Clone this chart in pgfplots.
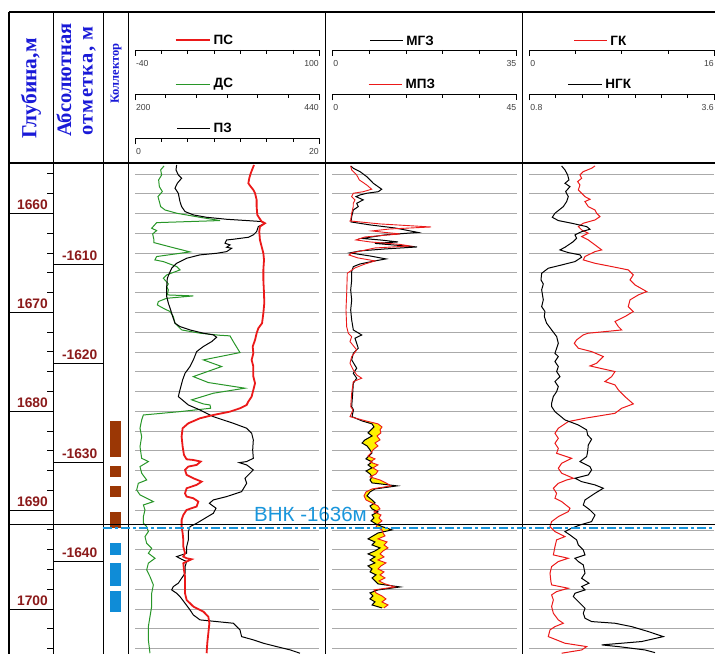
\documentclass[border=0pt]{standalone}
\usepackage{fontspec}
\setmainfont{Liberation Sans}
\newfontfamily\hdserif{Liberation Serif}
\newfontfamily\hdserifsp{Liberation Serif}[LetterSpace=6]
\usepackage{pgfplots}
\usepackage{pgfplotstable}
\pgfplotsset{compat=1.18}

\definecolor{dred}{RGB}{139,26,26}
\definecolor{hblue}{RGB}{25,25,215}
\definecolor{psred}{RGB}{235,25,25}
\definecolor{dsgreen}{RGB}{40,150,40}
\definecolor{vnkblue}{RGB}{25,150,220}
\definecolor{kbrown}{RGB}{155,55,5}
\definecolor{kblue}{RGB}{15,140,215}
\definecolor{gridgray}{RGB}{170,170,170}
\definecolor{fillyellow}{RGB}{255,240,0}

\pgfplotstableread{
d v
1655.10 50.4
1655.94 47.9
1656.44 46.8
1656.95 46.1
1657.29 47.9
1657.62 49.9
1657.96 51.2
1658.63 52.4
1659.31 52.4
1660.15 52.9
1660.82 56.2
1660.99 58.7
1661.33 54.9
1661.84 54.4
1662.68 54.9
1663.35 56.2
1664.03 57.5
1664.70 58.0
1665.71 57.5
1666.72 57.5
1668.07 58.0
1669.08 58.2
1670.09 57.5
1671.10 56.5
1671.61 53.7
1672.11 52.4
1672.79 51.2
1673.46 49.4
1674.14 49.9
1674.81 48.6
1675.48 49.9
1676.50 49.9
1677.17 51.2
1677.84 49.9
1678.52 48.6
1679.02 46.1
1679.37 44.8
1679.70 39.8
1680.04 32.2
1680.38 19.5
1680.71 9.4
1681.22 0.5
1681.72 -3.8
1682.57 -4.6
1683.58 -3.8
1684.42 -2.8
1684.86 -0.8
1684.93 4.3
1685.09 9.9
1685.43 6.8
1685.60 0.5
1685.94 -2.0
1686.44 -0.8
1686.78 4.3
1687.12 10.6
1687.45 6.8
1687.79 -0.8
1688.30 -2.0
1688.63 -0.8
1688.80 4.3
1689.14 8.1
1689.64 6.8
1689.98 -0.8
1690.49 -3.3
1690.99 -4.6
1691.67 -4.6
1692.34 -3.8
1693.01 -3.3
1693.69 -3.3
1694.36 -2.0
1694.70 -3.3
1694.87 -0.8
1694.97 3.0
1695.20 -0.8
1695.37 -3.3
1696.05 -2.8
1696.72 -2.0
1697.73 -2.0
1698.41 -2.0
1699.08 -0.8
1699.75 4.3
1700.26 11.9
1700.77 15.7
1701.44 16.5
1702.45 15.7
1703.46 14.9
1704.47 14.4
}\tabPS

\pgfplotstableread{
d v
1655.20 237.8
1655.60 233.4
1656.11 234.7
1656.61 230.8
1657.29 231.7
1657.79 235.6
1658.30 229.9
1658.80 231.7
1659.31 233.4
1659.65 239.1
1659.98 254.3
1660.39 284.6
1660.72 310.7
1660.93 228.2
1661.50 221.7
1661.73 228.2
1662.07 223.0
1662.68 224.7
1662.95 224.7
1663.42 247.7
1663.89 271.6
1664.36 228.2
1664.70 226.0
1664.87 236.9
1665.37 254.3
1665.71 258.6
1666.22 241.2
1666.55 236.9
1667.13 243.4
1667.40 241.2
1667.73 243.4
1668.24 242.1
1668.34 275.9
1668.58 241.2
1668.91 230.4
1669.25 229.1
1669.59 236.9
1669.92 245.6
1670.43 249.9
1671.10 252.1
1671.78 260.8
1672.11 284.6
1672.32 310.7
1672.38 323.7
1672.96 328.0
1674.07 336.7
1674.81 289.0
1675.48 312.8
1676.50 275.9
1677.10 295.5
1677.67 343.2
1678.18 302.0
1678.85 273.8
1679.26 289.0
1679.37 297.7
1679.70 298.5
1680.04 258.6
1680.38 210.9
1680.88 208.7
1681.72 206.5
1682.57 208.7
1683.58 206.5
1684.76 208.7
1685.09 217.4
1685.60 206.5
1686.27 208.7
1686.95 215.2
1687.29 204.3
1687.96 202.2
1688.46 206.5
1688.80 215.2
1689.14 223.9
1689.48 210.9
1689.98 213.0
1690.66 210.9
1691.33 210.9
1691.67 215.2
1692.17 217.4
1692.68 213.0
1693.35 215.2
1693.86 221.7
1694.36 217.4
1694.87 226.0
1695.37 217.4
1696.05 215.2
1696.72 219.5
1697.56 223.9
1698.41 221.7
1699.75 221.7
1700.77 219.5
1701.78 217.4
1703.12 217.4
1704.47 219.5
}\tabDS

\pgfplotstableread{
d v
1655.10 4.52
1655.60 4.45
1656.11 4.70
1656.44 5.06
1656.95 4.59
1657.45 4.34
1657.96 4.70
1658.80 4.88
1659.31 5.06
1659.81 5.43
1660.15 6.33
1660.39 7.78
1660.59 9.95
1660.72 12.12
1660.82 13.74
1660.99 14.11
1661.33 13.38
1661.84 13.20
1662.17 12.84
1662.41 12.30
1662.61 10.67
1662.68 9.95
1663.02 9.77
1663.18 10.31
1663.42 9.95
1663.52 10.49
1663.86 9.95
1664.03 8.86
1664.19 7.05
1664.53 5.61
1665.04 4.52
1665.54 3.98
1666.05 3.73
1666.55 3.51
1667.40 3.44
1668.41 3.44
1669.08 3.62
1669.76 3.87
1670.43 4.09
1671.10 4.34
1671.44 4.88
1671.78 5.97
1672.11 7.41
1672.28 8.50
1672.52 8.86
1672.96 8.32
1673.46 7.41
1673.97 6.69
1674.81 6.33
1675.48 5.97
1676.16 5.43
1676.83 5.17
1677.84 4.88
1678.52 4.70
1679.37 5.79
1679.87 7.05
1680.55 8.50
1681.22 10.67
1681.72 12.12
1682.23 12.66
1682.90 12.84
1683.92 12.77
1684.76 12.84
1685.09 12.12
1685.20 11.32
1685.43 12.12
1685.94 12.84
1686.27 12.48
1686.78 11.94
1687.29 12.12
1688.13 11.57
1688.63 9.95
1688.97 8.50
1689.31 8.07
1689.81 8.79
1690.32 8.50
1690.82 7.60
1691.33 6.69
1691.67 5.97
1692.17 5.79
1693.01 5.79
1693.69 5.61
1694.36 5.61
1694.53 5.06
1694.70 4.52
1694.97 5.06
1695.20 5.61
1695.71 5.43
1696.38 5.43
1697.39 4.70
1697.73 4.16
1698.07 3.98
1698.41 4.52
1698.74 4.88
1699.42 5.43
1700.09 5.97
1700.60 6.33
1701.10 7.05
1701.27 8.86
1701.44 10.67
1702.11 11.39
1702.79 11.57
1703.12 12.84
1703.46 13.93
1703.80 15.37
1704.13 16.82
1704.47 17.90
}\tabPZ

\pgfplotstableread{
d v
1655.20 3.49
1655.43 3.99
1655.77 5.26
1656.28 6.53
1656.61 7.16
1656.95 7.78
1657.55 9.38
1657.80 8.73
1657.96 6.53
1658.13 5.26
1658.30 4.50
1658.63 5.88
1658.97 4.63
1659.31 4.93
1659.65 3.99
1660.32 3.68
1660.86 3.55
1661.16 7.16
1661.47 11.90
1661.92 16.27
1662.17 10.00
1662.53 5.64
1662.68 9.05
1662.88 12.47
1663.03 8.10
1663.39 16.08
1663.59 10.00
1663.79 5.26
1663.99 3.36
1664.30 7.16
1664.60 10.19
1664.80 8.10
1665.11 5.26
1665.38 3.99
1665.88 3.68
1666.72 3.68
1667.74 3.49
1668.75 3.68
1669.76 3.49
1670.77 3.68
1671.78 3.99
1672.29 5.58
1672.62 4.31
1673.63 4.93
1674.14 3.99
1674.81 3.68
1675.65 4.63
1676.16 3.99
1676.66 4.63
1677.17 3.99
1678.18 3.87
1679.53 3.68
1679.87 4.02
1680.55 3.74
1680.98 5.64
1681.28 7.54
1681.59 7.91
1681.89 7.35
1682.19 6.78
1682.50 7.54
1682.90 6.21
1683.21 5.64
1683.51 6.59
1683.91 7.16
1684.22 7.54
1684.52 6.97
1684.82 6.40
1685.13 7.54
1685.43 6.78
1685.73 7.54
1686.04 6.40
1686.34 7.16
1686.64 7.54
1686.95 7.16
1687.25 7.54
1687.55 12.28
1687.86 8.10
1688.16 7.16
1688.56 6.59
1688.97 7.54
1689.27 8.10
1689.58 7.16
1689.88 7.54
1690.18 8.67
1690.49 7.54
1690.79 7.91
1691.09 7.35
1691.40 8.29
1691.70 9.62
1692.00 11.33
1692.31 8.67
1692.61 7.72
1692.91 6.78
1693.22 8.10
1693.52 7.54
1693.82 9.05
1694.13 8.10
1694.43 6.78
1694.73 8.10
1695.04 7.16
1695.34 8.10
1695.64 6.78
1695.95 7.54
1696.25 7.16
1696.55 8.29
1696.86 7.54
1697.16 8.10
1697.46 8.67
1697.77 12.85
1698.07 8.67
1698.37 7.16
1698.68 7.72
1698.98 7.16
1699.28 8.10
1699.59 7.54
1699.89 9.43
}\tabMGZ

\pgfplotstableread{
d v
1655.20 4.49
1655.60 4.73
1656.11 5.95
1656.61 6.59
1657.12 8.39
1657.55 9.61
1657.80 7.56
1657.96 5.12
1658.30 4.73
1658.63 5.54
1658.97 5.12
1659.31 5.12
1659.98 4.73
1660.66 4.49
1660.76 4.32
1661.06 11.64
1661.37 24.08
1661.57 14.08
1661.77 9.69
1661.92 12.86
1662.07 16.52
1662.38 7.98
1662.68 5.78
1662.88 9.20
1663.13 16.52
1663.29 18.96
1663.49 10.42
1663.99 4.81
1664.20 4.07
1664.50 6.27
1664.80 10.42
1665.11 7.98
1665.51 5.54
1666.05 3.66
1668.07 3.51
1669.76 3.34
1671.45 3.51
1672.11 3.90
1672.46 4.73
1672.96 4.32
1673.80 5.95
1674.48 4.73
1675.15 4.32
1675.82 5.12
1676.33 5.95
1676.66 7.17
1677.01 5.12
1678.18 4.73
1679.53 4.49
1679.87 5.05
1680.55 4.32
1680.98 8.22
1681.28 11.15
1681.59 12.13
1681.89 11.64
1682.19 11.88
1682.50 10.91
1682.90 11.64
1683.21 10.42
1683.51 11.15
1683.91 9.93
1684.22 9.44
1684.52 8.71
1684.82 10.42
1685.13 9.20
1685.43 11.15
1685.73 9.93
1686.04 11.15
1686.34 10.66
1686.64 9.20
1686.95 11.64
1687.25 13.10
1687.55 14.32
1687.86 9.69
1688.16 8.22
1688.56 7.73
1688.97 8.22
1689.27 9.69
1689.58 11.15
1689.88 11.64
1690.18 10.17
1690.49 11.88
1690.79 11.39
1691.09 12.13
1691.40 11.15
1691.70 10.66
1692.00 12.13
1692.31 12.37
1692.61 12.86
1692.91 11.15
1693.22 13.35
1693.52 12.61
1693.82 13.59
1694.13 12.37
1694.43 11.64
1694.73 12.61
1695.04 11.15
1695.34 13.10
1695.64 11.88
1695.95 11.15
1696.25 12.61
1696.55 11.64
1696.86 12.86
1697.16 11.39
1697.46 12.86
1697.77 15.30
1698.07 10.17
1698.37 10.66
1698.68 12.13
1698.98 13.10
1699.28 12.13
1699.59 13.59
1699.89 12.61
}\tabMPZ

% yellow band: MGZ (s=1) down, then MPZ (s=35/45) back up
\pgfplotstableread{
d v s
1680.98 5.64 1
1681.28 7.54 1
1681.59 7.91 1
1681.89 7.35 1
1682.19 6.78 1
1682.50 7.54 1
1682.90 6.21 1
1683.21 5.64 1
1683.51 6.59 1
1683.91 7.16 1
1684.22 7.54 1
1684.52 6.97 1
1684.82 6.40 1
1685.13 7.54 1
1685.43 6.78 1
1685.73 7.54 1
1686.04 6.40 1
1686.34 7.16 1
1686.64 7.54 1
1686.95 7.16 1
1687.25 7.54 1
1687.55 12.28 1
1687.86 8.10 1
1688.16 7.16 1
1688.56 6.59 1
1688.97 7.54 1
1689.27 8.10 1
1689.58 7.16 1
1689.88 7.54 1
1690.18 8.67 1
1690.49 7.54 1
1690.79 7.91 1
1691.09 7.35 1
1691.40 8.29 1
1691.70 9.62 1
1692.00 11.33 1
1692.31 8.67 1
1692.61 7.72 1
1692.91 6.78 1
1693.22 8.10 1
1693.52 7.54 1
1693.82 9.05 1
1694.13 8.10 1
1694.43 6.78 1
1694.73 8.10 1
1695.04 7.16 1
1695.34 8.10 1
1695.64 6.78 1
1695.95 7.54 1
1696.25 7.16 1
1696.55 8.29 1
1696.86 7.54 1
1697.16 8.10 1
1697.46 8.67 1
1697.77 12.85 1
1698.07 8.67 1
1698.37 7.16 1
1698.68 7.72 1
1698.98 7.16 1
1699.28 8.10 1
1699.59 7.54 1
1699.89 9.43 1
1699.89 12.61 0.7778
1699.59 13.59 0.7778
1699.28 12.13 0.7778
1698.98 13.10 0.7778
1698.68 12.13 0.7778
1698.37 10.66 0.7778
1698.07 10.17 0.7778
1697.77 15.30 0.7778
1697.46 12.86 0.7778
1697.16 11.39 0.7778
1696.86 12.86 0.7778
1696.55 11.64 0.7778
1696.25 12.61 0.7778
1695.95 11.15 0.7778
1695.64 11.88 0.7778
1695.34 13.10 0.7778
1695.04 11.15 0.7778
1694.73 12.61 0.7778
1694.43 11.64 0.7778
1694.13 12.37 0.7778
1693.82 13.59 0.7778
1693.52 12.61 0.7778
1693.22 13.35 0.7778
1692.91 11.15 0.7778
1692.61 12.86 0.7778
1692.31 12.37 0.7778
1692.00 12.13 0.7778
1691.70 10.66 0.7778
1691.40 11.15 0.7778
1691.09 12.13 0.7778
1690.79 11.39 0.7778
1690.49 11.88 0.7778
1690.18 10.17 0.7778
1689.88 11.64 0.7778
1689.58 11.15 0.7778
1689.27 9.69 0.7778
1688.97 8.22 0.7778
1688.56 7.73 0.7778
1688.16 8.22 0.7778
1687.86 9.69 0.7778
1687.55 14.32 0.7778
1687.25 13.10 0.7778
1686.95 11.64 0.7778
1686.64 9.20 0.7778
1686.34 10.66 0.7778
1686.04 11.15 0.7778
1685.73 9.93 0.7778
1685.43 11.15 0.7778
1685.13 9.20 0.7778
1684.82 10.42 0.7778
1684.52 8.71 0.7778
1684.22 9.44 0.7778
1683.91 9.93 0.7778
1683.51 11.15 0.7778
1683.21 10.42 0.7778
1682.90 11.64 0.7778
1682.50 10.91 0.7778
1682.19 11.88 0.7778
1681.89 11.64 0.7778
1681.59 12.13 0.7778
1681.28 11.15 0.7778
1680.98 8.22 0.7778
}\tabBand

\pgfplotstableread{
d v
1655.20 1.289
1655.60 1.340
1656.11 1.380
1656.61 1.400
1656.95 1.340
1657.29 1.415
1657.79 1.350
1658.30 1.390
1658.80 1.365
1659.31 1.315
1659.98 1.188
1660.39 1.148
1660.72 1.239
1660.99 1.441
1661.33 1.668
1661.60 1.718
1661.84 1.592
1662.17 1.491
1662.51 1.516
1662.85 1.466
1663.42 1.340
1663.69 1.264
1663.96 1.390
1664.19 1.567
1664.43 1.592
1664.87 1.491
1665.21 1.289
1665.54 1.088
1666.05 0.987
1666.72 0.977
1667.13 1.012
1667.73 0.987
1668.74 1.012
1669.42 0.987
1669.92 1.037
1670.43 1.027
1671.10 1.062
1671.78 1.138
1672.45 1.214
1673.13 1.239
1673.63 1.214
1674.14 1.188
1674.47 1.239
1674.98 1.188
1675.48 1.239
1675.99 1.214
1676.50 1.264
1677.00 1.188
1677.51 1.239
1678.01 1.214
1678.52 1.163
1679.19 1.138
1679.53 1.138
1680.04 1.188
1680.88 1.340
1681.39 1.542
1681.89 1.668
1682.40 1.683
1682.84 1.743
1683.41 1.693
1684.08 1.683
1684.59 1.668
1685.09 1.567
1685.26 1.617
1685.60 1.718
1685.94 1.743
1686.44 1.693
1686.78 1.491
1687.12 1.592
1687.45 1.794
1687.79 1.920
1688.30 1.794
1688.97 1.643
1689.48 1.617
1689.98 1.718
1690.49 1.794
1691.16 1.743
1691.50 1.567
1691.83 1.441
1692.17 1.340
1692.51 1.415
1693.01 1.516
1693.52 1.542
1694.03 1.617
1694.53 1.643
1694.87 1.491
1695.20 1.542
1695.54 1.617
1696.38 1.643
1696.89 1.592
1697.39 1.703
1697.73 1.592
1698.07 1.643
1698.41 1.491
1698.74 1.466
1699.25 1.542
1699.92 1.643
1700.43 1.617
1700.93 1.643
1701.27 1.743
1701.44 2.097
1701.78 2.349
1702.28 2.601
1702.79 2.828
1703.29 2.500
1703.63 1.895
1703.80 2.147
1703.97 2.349
1704.14 2.551
1704.41 2.702
}\tabNGK

\pgfplotstableread{
d v
1655.20 5.68
1655.43 5.39
1655.77 4.67
1656.11 4.38
1656.44 4.53
1656.78 4.18
1657.12 4.38
1657.62 4.24
1657.96 4.53
1658.30 4.81
1658.57 5.25
1658.80 4.81
1659.31 5.10
1659.65 5.68
1659.98 5.82
1660.32 6.11
1660.66 5.68
1660.99 4.67
1661.33 4.24
1661.67 4.53
1662.00 5.10
1662.34 4.53
1662.68 5.10
1663.18 5.68
1663.69 6.26
1663.86 5.68
1664.36 4.81
1664.70 4.67
1665.04 5.68
1665.37 7.12
1665.71 8.56
1666.22 8.99
1666.72 8.71
1667.23 9.14
1667.90 10.15
1668.24 9.43
1668.74 8.71
1669.42 8.56
1669.92 8.99
1670.43 8.27
1670.93 7.41
1671.44 7.70
1671.78 7.99
1671.95 6.54
1672.11 5.10
1672.28 4.67
1672.79 4.09
1673.13 3.89
1673.63 4.24
1673.97 5.39
1674.47 6.40
1675.15 5.82
1675.42 5.25
1675.65 6.11
1675.99 7.41
1676.50 7.12
1677.00 6.54
1677.34 7.41
1677.84 7.70
1678.52 8.27
1679.26 8.99
1679.70 7.99
1680.21 7.41
1680.71 4.81
1681.05 3.37
1681.72 2.51
1682.23 2.22
1682.74 2.51
1683.24 2.22
1683.75 2.51
1684.25 2.36
1684.76 3.66
1685.26 2.80
1685.77 2.51
1686.27 2.80
1686.78 3.81
1686.95 3.23
1687.29 2.51
1687.79 2.08
1688.30 2.36
1688.80 2.22
1689.14 2.80
1689.81 3.52
1690.15 3.37
1690.66 2.51
1691.16 1.93
1691.67 1.79
1692.17 2.22
1692.68 3.08
1693.01 2.36
1693.69 2.22
1694.53 2.08
1694.87 3.37
1695.20 2.51
1695.71 1.93
1696.38 1.79
1697.23 1.87
1697.56 1.93
1697.90 3.37
1698.24 2.36
1698.57 1.93
1699.08 2.08
1699.75 1.93
1700.43 2.08
1701.10 2.51
1701.44 2.94
1701.78 2.22
1702.11 1.79
1702.79 1.64
1703.46 3.08
1703.80 4.96
1704.14 4.53
1704.47 2.80
}\tabGK

\pgfplotsset{
  trk/.style={scale only axis, height=491pt, anchor=north west,
    ymin=1654.9, ymax=1704.55, y dir=reverse, clip=true},
  grd/.style={trk, axis line style={draw=none}, xtick=\empty,
    ytick={1656,1658,...,1704}, yticklabels={}, major tick length=0pt,
    ymajorgrids, grid style={gridgray, line width=0.6pt}},
  hid/.style={trk, hide axis},
}

\newcommand{\scalebar}[6]{%
  \draw[line width=0.9pt] (#1,#3+6) -- (#1,#3) -- (#2,#3) -- (#2,#3+6);
  \pgfmathtruncatemacro{\nn}{#4-1}%
  \foreach \k in {1,...,\nn}{\draw[line width=0.9pt] ({#1+(#2-#1)*\k/#4},#3) -- ++(0,4);}
  \node[anchor=base west, inner sep=0pt, font=\fontsize{8.7}{10}\selectfont, text=black!75] at (#1+0.8,#3+16.7) {#5};
  \node[anchor=base east, inner sep=0pt, font=\fontsize{8.7}{10}\selectfont, text=black!75] at (#2-0.3,#3+16.7) {#6};
}
\newcommand{\lgd}[5]{%
  \draw[#4, line width=1.4pt] (#1,#3) -- (#2,#3);
  \node[anchor=west, inner sep=0pt, font=\bfseries\fontsize{13.5}{15}\selectfont] at (#2+3.5,#3) {#5};
}

\begin{document}
\begin{tikzpicture}
\useasboundingbox (0,0) rectangle (715pt,654pt);

% ---------- track 1 ----------
\begin{axis}[grd, at={(135pt,491pt)}, width=184.3pt, xmin=200, xmax=440]
\addplot[dsgreen, line width=1pt] table[x=v, y=d]{\tabDS};
\end{axis}
\begin{axis}[hid, at={(135pt,491pt)}, width=184.3pt, xmin=0, xmax=20]
\addplot[black, line width=1pt] table[x=v, y=d]{\tabPZ};
\end{axis}
\begin{axis}[hid, at={(135pt,491pt)}, width=184.3pt, xmin=-40, xmax=100]
\addplot[psred, line width=1.8pt] table[x=v, y=d]{\tabPS};
\end{axis}

% ---------- track 2 ----------
\begin{axis}[grd, at={(332.3pt,491pt)}, width=184.4pt, xmin=0, xmax=35]
\addplot[fill=fillyellow, draw=none] table[x expr=\thisrow{v}*\thisrow{s}, y=d]{\tabBand};
\addplot[black, line width=1pt] table[x=v, y=d]{\tabMGZ};
\addplot[psred, line width=0.9pt] table[x expr=\thisrow{v}*35/45, y=d]{\tabMPZ};
\end{axis}

% ---------- track 3 ----------
\begin{axis}[grd, at={(529.3pt,491pt)}, width=185pt, xmin=0, xmax=16]
\addplot[psred, line width=1pt] table[x=v, y=d]{\tabGK};
\end{axis}
\begin{axis}[hid, at={(529.3pt,491pt)}, width=185pt, xmin=0.8, xmax=3.6]
\addplot[black, line width=1pt] table[x=v, y=d]{\tabNGK};
\end{axis}

% ---------- collector ----------
\begin{axis}[hid, at={(103.3pt,491pt)}, width=25pt, xmin=0, xmax=25]
\addplot[fill=kbrown, draw=none] coordinates {(6.7,1680.95) (17.4,1680.95) (17.4,1684.65) (6.7,1684.65)};
\addplot[fill=kbrown, draw=none] coordinates {(6.7,1685.53) (17.4,1685.53) (17.4,1686.67) (6.7,1686.67)};
\addplot[fill=kbrown, draw=none] coordinates {(6.7,1687.52) (17.4,1687.52) (17.4,1688.63) (6.7,1688.63)};
\addplot[fill=kbrown, draw=none] coordinates {(6.7,1690.15) (17.4,1690.15) (17.4,1691.77) (6.7,1691.77)};
\addplot[fill=kblue, draw=none] coordinates {(6.7,1693.29) (17.4,1693.29) (17.4,1694.56) (6.7,1694.56)};
\addplot[fill=kblue, draw=none] coordinates {(6.7,1695.37) (17.4,1695.37) (17.4,1697.63) (6.7,1697.63)};
\addplot[fill=kblue, draw=none] coordinates {(6.7,1698.14) (17.4,1698.14) (17.4,1700.32) (6.7,1700.32)};
\end{axis}

% ---------- depth-based decorations ----------
\begin{scope}[x=1pt, y=-9.889pt, yshift=440.5pt]
  \foreach \d in {0,10,20,30,40} \draw[line width=0.9pt] (9,\d) -- (53.3,\d);
  \foreach \d in {-4,-2,...,44} \draw[line width=0.9pt] (47,\d) -- (53.3,\d);
  \foreach \d/\t in {0/1660,10/1670,20/1680,30/1690,40/1700}
    \node[anchor=base east, inner sep=0pt, text=dred, font=\bfseries\fontsize{13.8}{15}\selectfont] at (48,\d-0.36) {\t};
  \foreach \d/\t in {5.15/-1610,15.15/-1620,25.15/-1630,35.15/-1640}{
    \draw[line width=0.9pt] (53.3,\d) -- (103.3,\d);
    \node[anchor=base east, inner sep=0pt, text=dred, font=\bfseries\fontsize{13.8}{15}\selectfont] at (97.5,\d-0.4) {\t};}
  \node[anchor=base west, inner sep=0pt, text=vnkblue, font=\fontsize{20.5}{22}\selectfont] at (254,31.1) {ВНК -1636м};
  \draw[line width=1pt] (9,31.45) -- (715,31.45);
\end{scope}

% ---------- header & frame ----------
\begin{scope}[x=1pt, y=-1pt, yshift=654pt]
  \draw[line width=1.2pt] (9,12) -- (715,12);
  \foreach \xx in {9,53.3,103.3,128.3,325.7,522.7} \draw[line width=1.2pt] (\xx,12) -- (\xx,654);
  \draw[line width=2.4pt] (9,163) -- (715,163);
  \node[rotate=90, inner sep=0pt, text=hblue, font=\hdserif\bfseries\fontsize{21.5}{23}\selectfont] at (31,88.3) {Глубина,м};
  \node[rotate=90, anchor=west, inner sep=0pt, text=hblue, font=\hdserif\bfseries\fontsize{20.5}{22}\selectfont] at (64,137) {Абсолютная};
  \node[rotate=90, inner sep=0pt, text=hblue, font=\hdserifsp\bfseries\fontsize{20.5}{22}\selectfont] at (89.5,81) {отметка, м};
  \node[rotate=90, inner sep=0pt, text=hblue, font=\hdserif\bfseries\fontsize{12.5}{14}\selectfont] at (116,73.5) {Коллектор};
  \lgd{175.7}{210}{40}{psred}{ПС}
  \scalebar{135}{319.3}{50}{7}{-40}{100}
  \lgd{175.7}{210}{84.3}{dsgreen}{ДС}
  \scalebar{135}{319.3}{94.3}{6}{200}{440}
  \lgd{177}{210}{128.3}{black}{ПЗ}
  \scalebar{135}{319.3}{138.3}{7}{0}{20}
  \lgd{370}{402.7}{40.7}{black}{МГЗ}
  \scalebar{332.3}{516.7}{50}{5}{0}{35}
  \lgd{368.5}{402}{84.3}{psred}{МПЗ}
  \scalebar{332.3}{516.7}{94.3}{5}{0}{45}
  \lgd{574}{606.7}{40.7}{psred}{ГК}
  \scalebar{529.3}{714.3}{50}{4}{0}{16}
  \lgd{568.3}{601.7}{84.3}{black}{НГК}
  \scalebar{529.3}{714.3}{94.3}{7}{0.8}{3.6}
  \draw[vnkblue, line width=1.8pt, dash pattern=on 9pt off 3pt on 3pt off 3pt] (103.3,527.7) -- (715,527.7);
\end{scope}
\end{tikzpicture}
\end{document}
